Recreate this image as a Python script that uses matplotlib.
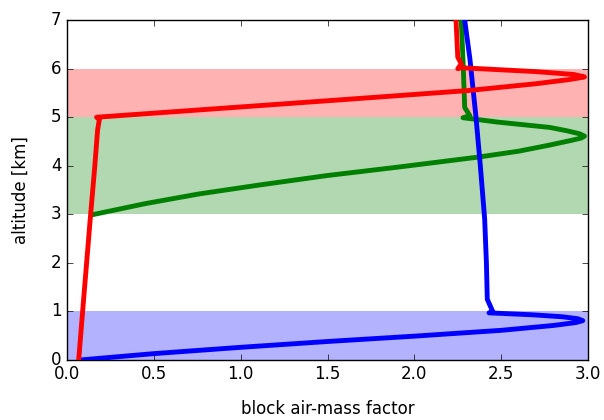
import matplotlib
matplotlib.use("Agg")
import matplotlib.pyplot as plt

# block AMF profiles
blue_x = [0.08, 0.5, 1.0, 1.5, 2.0, 2.5, 2.8, 2.93, 2.97, 2.94, 2.85, 2.68, 2.43, 2.45, 2.42,
          2.415, 2.405, 2.38, 2.355, 2.32, 2.29]
blue_y = [0.0, 0.13, 0.26, 0.38, 0.49, 0.61, 0.71, 0.77, 0.81, 0.85, 0.89, 0.93, 0.97, 1.01, 1.25,
          2.0, 2.9, 4.0, 5.0, 6.2, 7.0]

green_x = [0.157, 0.45, 0.76, 1.1, 1.5, 1.9, 2.37, 2.6, 2.77, 2.9, 2.96, 2.98, 2.95, 2.88,
           2.78, 2.48, 2.28, 2.32, 2.29, 2.28, 2.27]
green_y = [3.0, 3.22, 3.42, 3.6, 3.8, 3.97, 4.18, 4.3, 4.42, 4.52, 4.57, 4.61, 4.66, 4.72,
           4.79, 4.9, 4.99, 5.03, 5.2, 6.2, 7.0]

red_x = [0.067, 0.095, 0.133, 0.16, 0.176, 0.186, 0.17, 1.54, 2.31, 2.70, 2.9, 2.98, 2.92,
         2.70, 2.27, 2.25, 2.27, 2.25, 2.24]
red_y = [0.0, 1.23, 2.88, 4.0, 4.74, 4.95, 5.0, 5.35, 5.55, 5.69, 5.78, 5.83, 5.88,
         5.94, 6.02, 6.0, 6.1, 6.24, 7.0]

# layers (bottom, top, colour)
bands = [(0, 1, 'b'), (3, 5, 'g'), (5, 6, 'r')]

plt.style.use('classic')
fig = plt.figure(figsize=(6.04, 4.2), dpi=100, facecolor='white')
ax = fig.add_axes([0.111, 0.143, 0.8625, 0.809])

for lo, hi, c in bands:
    ax.axhspan(lo, hi, color=c, alpha=0.3, lw=0)

ax.plot(green_x, green_y, color='g', lw=3.5, zorder=3)
ax.plot(blue_x, blue_y, color='b', lw=3.5, zorder=4)
ax.plot(red_x, red_y, color='r', lw=3.5, zorder=5)

ax.set_xlim(0, 3)
ax.set_ylim(0, 7)
ax.set_xticks([0.0, 0.5, 1.0, 1.5, 2.0, 2.5, 3.0])
ax.set_yticks(range(8))
ax.set_xlabel('block air-mass factor', labelpad=12)
ax.set_ylabel('altitude [km]', labelpad=15)

fig.savefig('out.png', dpi=100, facecolor='white')
